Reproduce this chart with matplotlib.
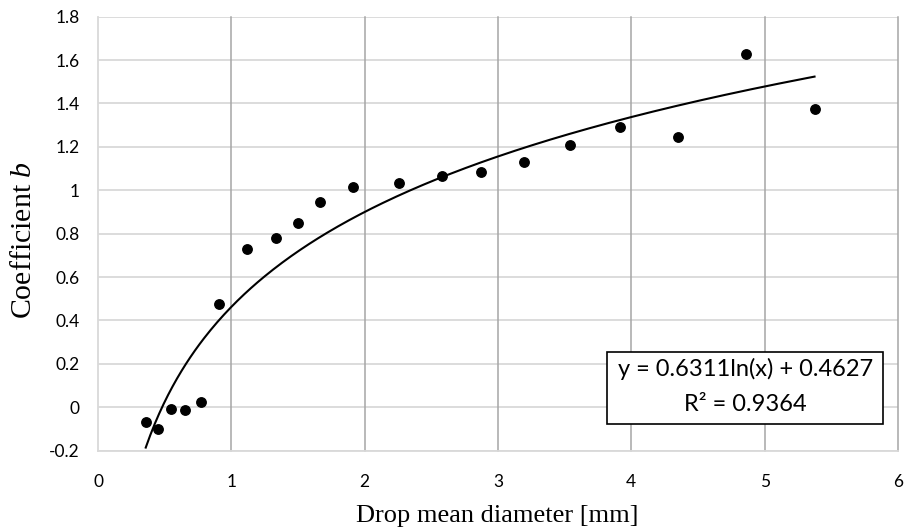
import numpy as np
import matplotlib
matplotlib.use("Agg")
import matplotlib.pyplot as plt
from matplotlib.patches import Rectangle

plt.rcParams["mathtext.fontset"] = "custom"
plt.rcParams["mathtext.rm"] = "Liberation Serif"
plt.rcParams["mathtext.it"] = "Liberation Serif:italic"

# Data
diameter = [0.358, 0.452, 0.548, 0.653, 0.770, 0.905, 1.115, 1.333, 1.503, 1.663,
            1.910, 2.258, 2.583, 2.872, 3.196, 3.541, 3.916, 4.351, 4.859, 5.374]
coef_b = [-0.069, -0.100, -0.006, -0.011, 0.023, 0.478, 0.729, 0.779, 0.848, 0.946,
          1.014, 1.034, 1.066, 1.083, 1.130, 1.207, 1.293, 1.244, 1.628, 1.376]
fit_a = 0.6311
fit_b = 0.4627
r2 = 0.9364
x_ticks = [0, 1, 2, 3, 4, 5, 6]
y_ticks = [-0.2, 0, 0.2, 0.4, 0.6, 0.8, 1.0, 1.2, 1.4, 1.6, 1.8]
y_tick_labels = ["-0.2", "0", "0.2", "0.4", "0.6", "0.8", "1", "1.2", "1.4", "1.6", "1.8"]

fig = plt.figure(figsize=(9.06, 5.31), dpi=100)
ax = fig.add_axes([98/906, 1-450.7/531, 800/906, 434/531])

ax.set_xlim(0, 6)
ax.set_ylim(-0.2, 1.8)
ax.set_xticks(x_ticks)
ax.set_yticks(y_ticks)
ax.set_yticklabels(y_tick_labels)
ax.set_xticklabels([str(v) for v in x_ticks])

# gridlines
for yv in y_ticks:
    ax.axhline(yv, color="#d9d9d9", lw=1.3, zorder=0)
for xv in x_ticks[1:]:
    ax.axvline(xv, color="#a6a6a6", lw=1.1, zorder=0.5, clip_on=False)

for s in ["top", "right"]:
    ax.spines[s].set_visible(False)
ax.spines["left"].set_color("#d9d9d9")
ax.spines["bottom"].set_color("#d9d9d9")
ax.spines["left"].set_linewidth(1.3)
ax.spines["bottom"].set_linewidth(1.3)
ax.tick_params(length=0, labelsize=12.5)
ax.tick_params(axis="x", pad=16.5)
ax.tick_params(axis="y", pad=13.2)
for lab in ax.get_xticklabels() + ax.get_yticklabels():
    lab.set_fontfamily("Lato")

# trend line
xs = np.linspace(min(diameter), max(diameter), 300)
ax.plot(xs, fit_a*np.log(xs) + fit_b, color="black", lw=1.5, zorder=3)

ax.plot(diameter, coef_b, "o", color="black", ms=6.8, zorder=4)

ax.set_xlabel("Drop mean diameter [mm]", family="Liberation Serif", fontsize=19)
ax.xaxis.label.set_va("center")
ax.xaxis.set_label_coords(0.499, (450.7-516)/434)

ax.set_ylabel("Coefficient $b$", family="Liberation Serif", fontsize=21.5)
ax.yaxis.label.set_va("center")
ax.yaxis.label.set_rotation_mode("default")
ax.yaxis.set_label_coords((24-98)/800, (450.7-240)/434)

# equation box
box_x0, box_x1 = 3.818, 5.888
box_y0, box_y1 = -0.078, 0.256
ax.add_patch(Rectangle((box_x0, box_y0), box_x1-box_x0, box_y1-box_y0,
                       fc="white", ec="black", lw=1.2, zorder=5))
cx = (box_x0 + box_x1) / 2
ax.text(cx, 0.1755, f"y = {fit_a}ln(x) + {fit_b}", ha="center", va="center",
        family="Lato", fontsize=17, zorder=6)
ax.text(cx, 0.0145, f"R² = {r2}", ha="center", va="center",
        family="Lato", fontsize=17, zorder=6)

fig.savefig("out.png", dpi=100)
